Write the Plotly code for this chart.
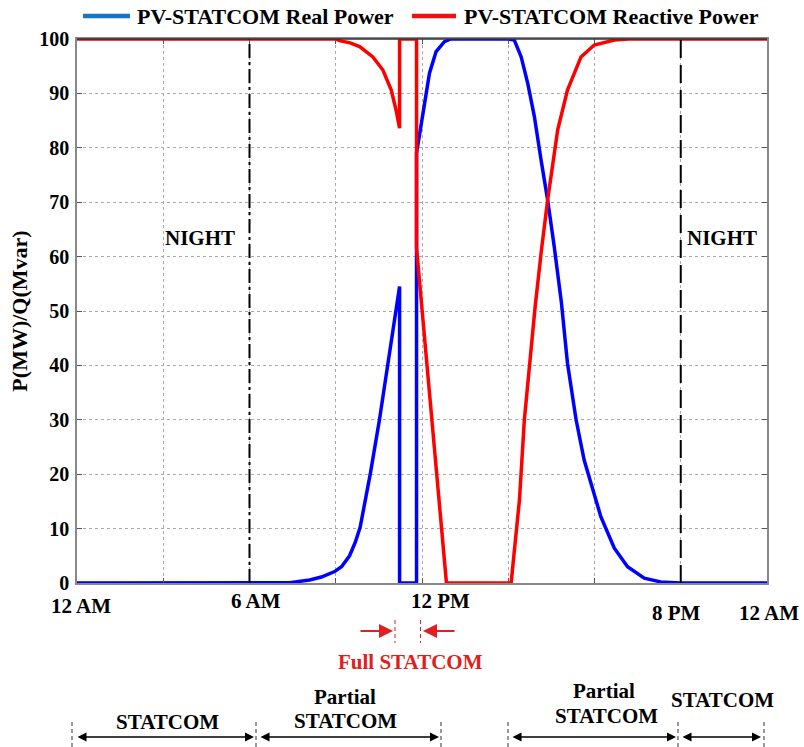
import plotly.graph_objects as go

# ---------------- data ----------------
hours_P = [0, 7.0, 7.4, 8.09, 8.5, 8.96, 9.2, 9.48, 9.68, 9.85, 10.02, 10.2, 10.52, 10.81,
           11.1, 11.22, 11.22, 11.81, 11.81, 12.09, 12.26, 12.49, 12.78, 13.0, 14.98,
           15.21, 15.45, 15.68, 15.91, 16.14, 16.37, 16.6, 16.85, 17.06, 17.36, 17.64,
           17.93, 18.22, 18.69, 19.15, 19.73, 20.3, 21.0, 24.0]
real_P = [0, 0, 0.05, 0.55, 1.1, 2.1, 3.0, 5.0, 7.5, 10.3, 15.0, 20.0, 30.0, 40.0,
          49.9, 54.5, 0, 0, 79.0, 88.2, 93.7, 97.7, 99.5, 100, 100,
          99.8, 96.7, 91.8, 85.7, 77.8, 70.4, 61.8, 51.5, 40.4, 30.0, 22.6,
          17.1, 12.2, 6.4, 3.0, 0.9, 0.2, 0, 0]

hours_Q = [0, 9.0, 9.13, 9.5, 9.83, 10.29, 10.64, 10.93, 11.1, 11.22,
           11.22, 11.81, 11.81, 12.34, 12.85, 15.1, 15.21, 15.39, 15.56, 15.73,
           15.93, 16.15, 16.37, 16.72, 17.06, 17.53, 17.99, 18.69, 19.2, 24.0]
reactive_Q = [100, 100, 99.7, 99.3, 98.6, 96.7, 94.3, 90.6, 86.9, 83.6,
              100, 100, 61.6, 30.0, 0, 0, 5.5, 15.3, 30.0, 40.0,
              50.5, 61.0, 70.4, 83.3, 90.6, 96.7, 98.9, 99.8, 100, 100]

series_names = ["PV-STATCOM Real Power", "PV-STATCOM Reactive Power"]
x_tick_labels = ["12 AM", "6 AM", "12 PM", "8 PM", "12 AM"]
y_tick_vals = list(range(0, 101, 10))
x_grid_vals = list(range(0, 25, 3))
y_title = "P(MW)/Q(Mvar)"
night_label = "NIGHT"
full_label = "Full STATCOM"

# ---------------- layout helpers ----------------
L, R, T, B = 77, 37, 39, 164
W, H = 804, 747
PW, PH = W - L - R, H - T - B
FONT = "Times New Roman, Liberation Serif, serif"
BLUE, RED = "#0000ff", "#ff0000"


def px(x):
    return (x - L) / PW


def py(y):
    return (H - B - y) / PH


fig = go.Figure()

fig.add_trace(go.Scatter(x=hours_P, y=real_P, mode="lines", name=series_names[0],
                         showlegend=False, line=dict(color=BLUE, width=3.5)))
fig.add_trace(go.Scatter(x=hours_Q, y=reactive_Q, mode="lines", name=series_names[1],
                         showlegend=False, line=dict(color=RED, width=3.5)))

shapes = []
# vertical day markers (6 AM and 8 PM)
shapes.append(dict(type="line", xref="x", yref="y", x0=6, x1=6, y0=0, y1=100,
                   line=dict(color="black", width=2, dash="14px,4px,3px,4px")))
shapes.append(dict(type="line", xref="x", yref="y", x0=21, x1=21, y0=0, y1=100,
                   line=dict(color="black", width=2, dash="18px,7px")))
# top border darker
shapes.append(dict(type="line", xref="paper", yref="paper", x0=0, x1=1, y0=1, y1=1,
                   line=dict(color="#333333", width=1.5)))

# legend (drawn manually to match sample length and spacing)
legend_items = [(series_names[0], "#1874c4", 83, 130, 135),
                (series_names[1], "#ee1111", 412, 456, 462)]
ann = []
for name, col, lx0, lx1, tx in legend_items:
    shapes.append(dict(type="line", xref="paper", yref="paper", x0=px(lx0), x1=px(lx1),
                       y0=py(16), y1=py(16), line=dict(color=col, width=4.5)))
    ann.append(dict(text=name, x=px(tx), y=py(16), xref="paper", yref="paper",
                    showarrow=False, xanchor="left", yanchor="middle",
                    font=dict(family=FONT, size=22, color="black", weight="bold")))

# small dashed delimiters below the chart
for xp in [72, 256, 441, 508, 678, 764]:
    shapes.append(dict(type="line", xref="paper", yref="paper", x0=px(xp), x1=px(xp),
                       y0=py(722), y1=py(747),
                       line=dict(color="#333333", width=1, dash="4px,3px")))
for xp in [395, 420.5]:
    shapes.append(dict(type="line", xref="paper", yref="paper", x0=px(xp), x1=px(xp),
                       y0=py(620), y1=py(643),
                       line=dict(color="#e02020", width=1, dash="4px,3px")))

tfont = dict(family=FONT, size=21, color="black", weight="bold")
# x tick labels
for lab, (xc, yc) in zip(x_tick_labels, [(81, 606), (256, 601), (440, 601), (676, 613), (769, 613)]):
    ann.append(dict(text=lab, x=px(xc), y=py(yc), xref="paper", yref="paper",
                    showarrow=False, font=tfont, xanchor="center", yanchor="middle"))
# NIGHT labels
for xc in [200, 722]:
    ann.append(dict(text=night_label, x=px(xc), y=py(238), xref="paper", yref="paper",
                    showarrow=False, font=tfont, xanchor="center", yanchor="middle"))
# Full STATCOM
ann.append(dict(text=full_label, x=px(410), y=py(662), xref="paper", yref="paper",
                showarrow=False, font=dict(family=FONT, size=21, color="#e02020", weight="bold"),
                xanchor="center", yanchor="middle"))
# red arrows
ann.append(dict(text="", x=px(393), y=py(631), xref="paper", yref="paper",
                ax=-34, ay=0, axref="pixel", ayref="pixel", showarrow=True,
                arrowhead=2, arrowsize=1.4, arrowwidth=2, arrowcolor="#e02020", standoff=0))
ann.append(dict(text="", x=px(423), y=py(631), xref="paper", yref="paper",
                ax=33, ay=0, axref="pixel", ayref="pixel", showarrow=True,
                arrowhead=2, arrowsize=1.4, arrowwidth=2, arrowcolor="#e02020", standoff=0))
# phase labels
phase_texts = [("STATCOM", 167, 722), ("Partial", 345, 697), ("STATCOM", 345, 721),
               ("Partial", 604, 691), ("STATCOM", 606, 716), ("STATCOM", 722, 700)]
for txt, xc, yc in phase_texts:
    ann.append(dict(text=txt, x=px(xc), y=py(yc), xref="paper", yref="paper",
                    showarrow=False, font=tfont, xanchor="center", yanchor="middle"))
# double arrows
for x0, x1 in [(76, 254), (259, 439), (511, 676), (681, 761)]:
    ann.append(dict(text="", x=px(x1), y=py(737), xref="paper", yref="paper",
                    ax=x0 - x1, ay=0, axref="pixel", ayref="pixel", showarrow=True,
                    arrowhead=2, startarrowhead=2, arrowside="end+start",
                    arrowsize=1.2, arrowwidth=1.5, arrowcolor="black",
                    standoff=0, startstandoff=0))

fig.update_layout(
    width=W, height=H,
    margin=dict(l=L, r=R, t=T, b=B, autoexpand=False),
    paper_bgcolor="white", plot_bgcolor="white",
    font=dict(family=FONT, size=20, color="black"),
    showlegend=False,
    shapes=shapes,
    annotations=ann,
)

fig.update_xaxes(range=[0, 24], tickvals=x_grid_vals, showticklabels=False,
                 ticks="inside", ticklen=5, tickcolor="#555555",
                 showline=True, linecolor="#888888", linewidth=1.5, mirror="ticks",
                 showgrid=True, gridcolor="#aaaaaa", gridwidth=1, griddash="dot",
                 zeroline=False)
fig.update_yaxes(range=[0, 100], tickvals=y_tick_vals,
                 ticks="inside", ticklen=5, tickcolor="#555555",
                 tickfont=dict(family=FONT, size=20, color="black", weight="bold"),
                 showline=True, linecolor="#888888", linewidth=1.5, mirror="ticks",
                 showgrid=True, gridcolor="#aaaaaa", gridwidth=1, griddash="dot",
                 zeroline=False, ticklabelstandoff=2,
                 title=dict(text=y_title, standoff=6,
                            font=dict(family=FONT, size=22, color="black", weight="bold")))

fig.write_html("out.html")
